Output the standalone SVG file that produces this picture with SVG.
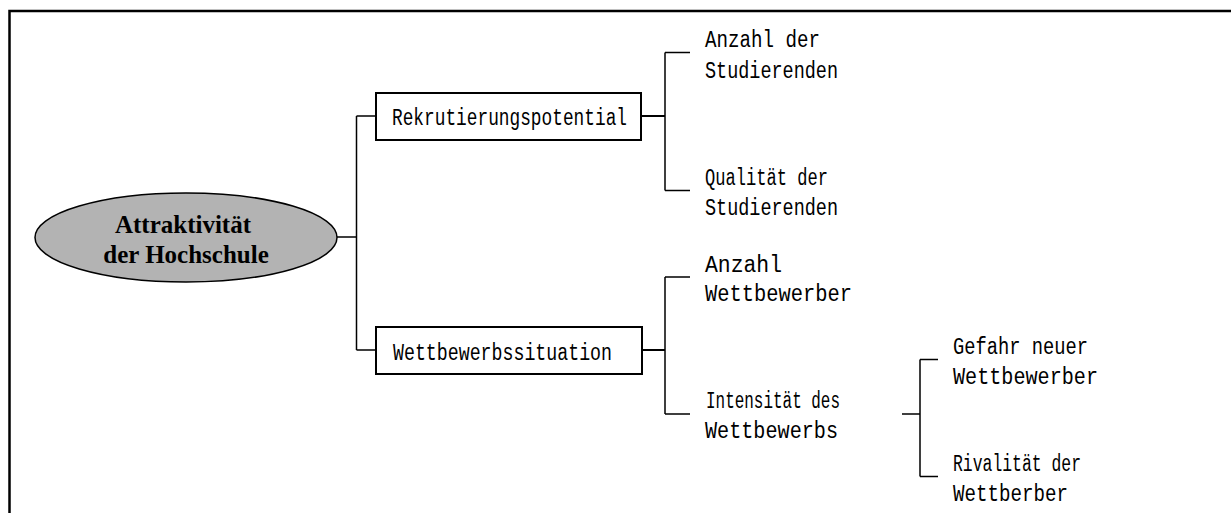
<svg xmlns="http://www.w3.org/2000/svg" width="1231" height="513" viewBox="0 0 1231 513">
<style>
.frame{fill:none;stroke:#000;stroke-width:2.5}
.box{fill:#fff;stroke:#000;stroke-width:2}
.conn{fill:none;stroke:#000;stroke-width:1.5}
.stub{fill:none;stroke:#000;stroke-width:2}
.t{font-family:"Liberation Mono","Courier New",monospace;font-size:23px;fill:#000}
.root{font-family:"Liberation Serif","Times New Roman",serif;font-size:25px;font-weight:bold;fill:#000;text-anchor:middle}
</style>
<rect width="1231" height="513" fill="#fff"/>
<path class="frame" d="M9.5,513 V11 H1231"/>
<g id="connectors">
<path class="conn" d="M337,237 H356.5 M356.5,116 V350 M356.5,116 H376 M356.5,350 H376"/>
<path class="stub" d="M641,116 H665"/>
<path class="conn" d="M665,52.5 V190.5 M665,52.5 H690 M665,190.5 H690"/>
<path class="stub" d="M642,350 H665"/>
<path class="conn" d="M665,277 V414 M665,277 H690 M665,414 H690"/>
<path class="conn" d="M902,414 H920 M920,359.5 V476.5 M920,359.5 H938 M920,476.5 H938"/>
</g>
<g id="root">
<ellipse cx="186" cy="237.5" rx="151" ry="44.5" fill="#b3b3b3" stroke="#000" stroke-width="1.5"/>
<text class="root" x="183" y="233">Attraktivität</text>
<text class="root" x="186" y="263">der Hochschule</text>
</g>
<g id="rekrutierung">
<rect class="box" x="376" y="93" width="265" height="47"/>
<text class="t" x="392" y="125" textLength="235" lengthAdjust="spacingAndGlyphs">Rekrutierungspotential</text>
</g>
<g id="wettbewerbssituation">
<rect class="box" x="376" y="327" width="266" height="47"/>
<text class="t" x="393" y="360" textLength="219" lengthAdjust="spacingAndGlyphs">Wettbewerbssituation</text>
</g>
<g id="anzahl-studierende">
<text class="t" x="705" y="47" textLength="115" lengthAdjust="spacingAndGlyphs">Anzahl der</text>
<text class="t" x="705" y="78" textLength="133" lengthAdjust="spacingAndGlyphs">Studierenden</text>
</g>
<g id="qualitaet-studierende">
<text class="t" x="705" y="185" textLength="123" lengthAdjust="spacingAndGlyphs">Qualität der</text>
<text class="t" x="705" y="215" textLength="133" lengthAdjust="spacingAndGlyphs">Studierenden</text>
</g>
<g id="anzahl-wettbewerber">
<text class="t" x="705" y="272" textLength="77" lengthAdjust="spacingAndGlyphs">Anzahl</text>
<text class="t" x="705" y="301" textLength="147" lengthAdjust="spacingAndGlyphs">Wettbewerber</text>
</g>
<g id="intensitaet">
<text class="t" x="706" y="408" textLength="134" lengthAdjust="spacingAndGlyphs">Intensität des</text>
<text class="t" x="705" y="438" textLength="133" lengthAdjust="spacingAndGlyphs">Wettbewerbs</text>
</g>
<g id="gefahr">
<text class="t" x="953" y="354" textLength="135" lengthAdjust="spacingAndGlyphs">Gefahr neuer</text>
<text class="t" x="953" y="384" textLength="145" lengthAdjust="spacingAndGlyphs">Wettbewerber</text>
</g>
<g id="rivalitaet">
<text class="t" x="953" y="471" textLength="128" lengthAdjust="spacingAndGlyphs">Rivalität der</text>
<text class="t" x="953" y="501" textLength="115" lengthAdjust="spacingAndGlyphs">Wettberber</text>
</g>
</svg>
